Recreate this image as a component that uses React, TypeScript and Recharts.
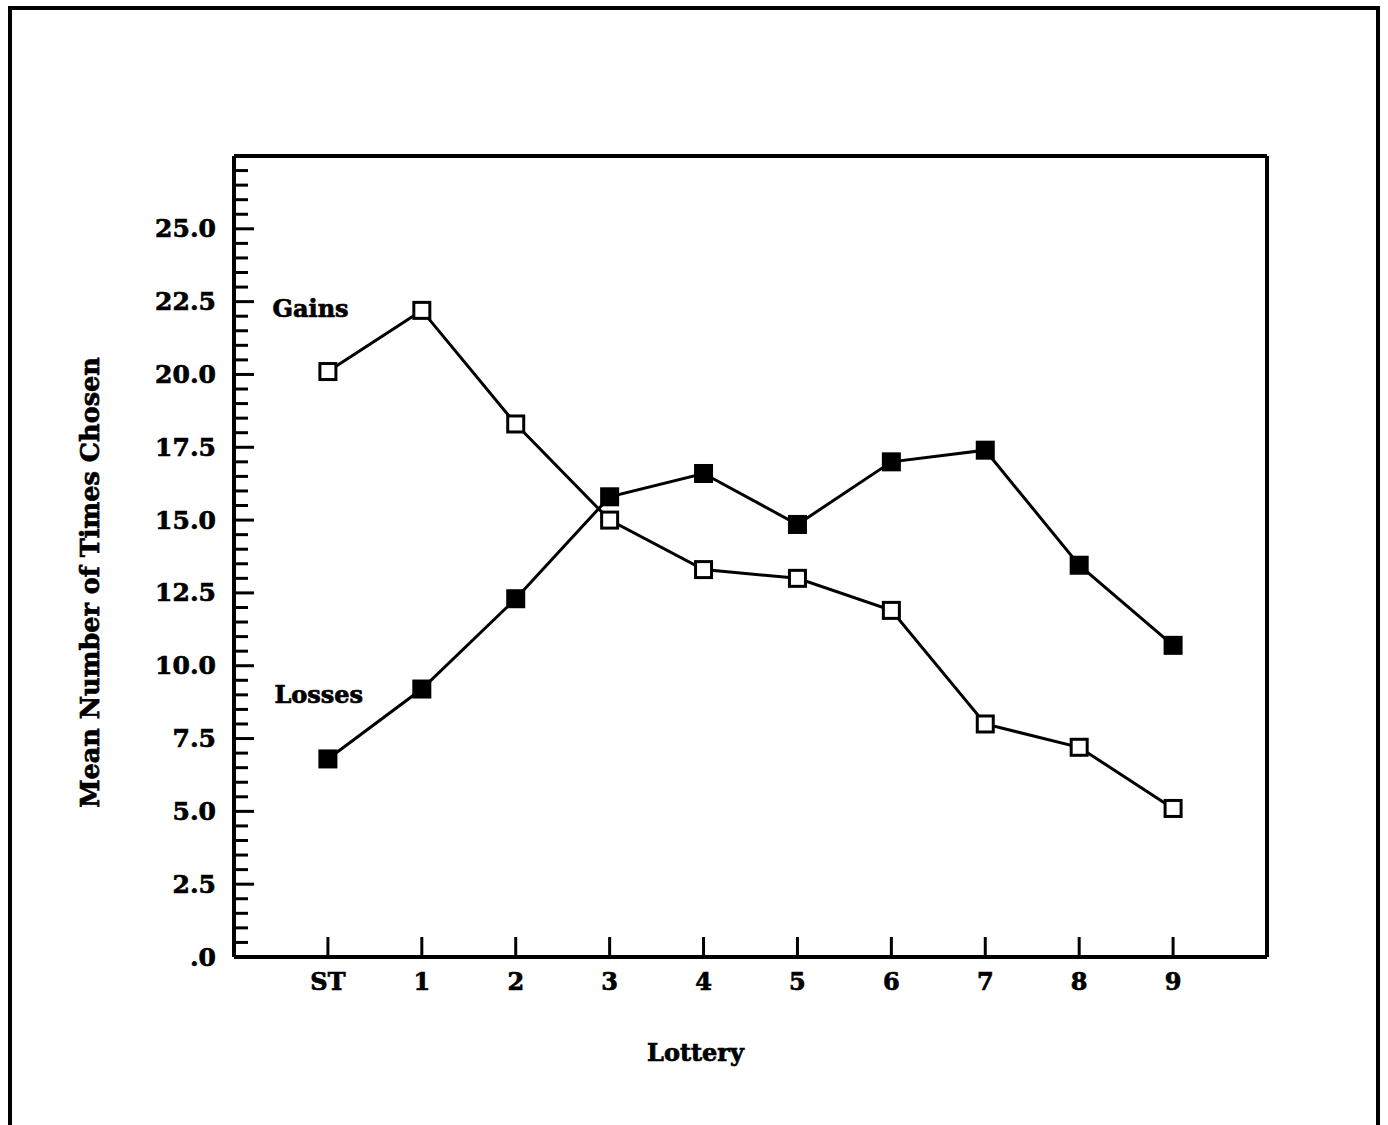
import { LineChart, Line, XAxis, YAxis, ReferenceDot, ReferenceLine } from "recharts"

const lotteries = ["ST", "1", "2", "3", "4", "5", "6", "7", "8", "9"]
const gains = [20.1, 22.2, 18.3, 15.0, 13.3, 13.0, 11.9, 8.0, 7.2, 5.1]
const losses = [6.8, 9.2, 12.3, 15.8, 16.6, 14.85, 17.0, 17.4, 13.45, 10.7]
const yMajorTicks = [0, 2.5, 5, 7.5, 10, 12.5, 15, 17.5, 20, 22.5, 25]
const yMinorTicks = Array.from({ length: 55 }, (_, i) => i * 0.5)
const xTicks = lotteries.map((_, i) => i)

const data = lotteries.map((lottery, i) => ({
  x: i,
  lottery,
  gains: gains[i],
  losses: losses[i]
}))

const font = "'DejaVu Serif', serif"
// heavier strokes so the text looks like the old plotter lettering
const heavy = { fontFamily: font, fontWeight: "bold" as const, fill: "#000", stroke: "#000", strokeWidth: 0.7 }

const fmtY = (v: number) => (v === 0 ? ".0" : v.toFixed(1))

const YTick = (props: any) => {
  const { x, y, payload } = props
  const major = yMajorTicks.includes(payload.value)
  return (
    <g>
      <line x1={x} x2={x + (major ? 20 : 14)} y1={y} y2={y} stroke="#000" strokeWidth={3} />
      {major && (
        <text x={x - 18} y={y} textAnchor="end" dominantBaseline="central" fontSize={25} {...heavy}>
          {fmtY(payload.value)}
        </text>
      )}
    </g>
  )
}

const XTick = (props: any) => {
  const { x, y, payload } = props
  return (
    <g>
      <line x1={x} x2={x} y1={y} y2={y - 20} stroke="#000" strokeWidth={3} />
      <text x={x} y={y + 24} textAnchor="middle" dominantBaseline="central" fontSize={24} {...heavy}>
        {lotteries[payload.value]}
      </text>
    </g>
  )
}

const square = (filled: boolean) => (props: any) => {
  const { cx, cy, index } = props
  return (
    <rect key={index} x={cx - 8} y={cy - 8} width={16} height={16} fill={filled ? "#000" : "#fff"} stroke="#000" strokeWidth={3} />
  )
}

const seriesLabel = (text: string) => (props: any) => {
  const { viewBox } = props
  return (
    <text x={viewBox.x} y={viewBox.y} dominantBaseline="central" fontSize={24} {...heavy}>
      {text}
    </text>
  )
}

export default function App() {
  return (
    <div style={{ position: "absolute", left: 0, top: 0, width: 1388, height: 1125, background: "#fff", overflow: "hidden" }}>
      <div
        style={{
          position: "absolute",
          left: 8,
          top: 6,
          width: 1364,
          height: 1200,
          borderTop: "4px solid #000",
          borderLeft: "4px solid #000",
          borderRight: "4px solid #000"
        }}
      />
      <div style={{ position: "absolute", left: 0, top: 0 }}>
        <LineChart width={1388} height={1125} data={data} margin={{ top: 156, right: 121, left: 10, bottom: 68 }}>
          <XAxis
            dataKey="x"
            type="number"
            domain={[-1, 10]}
            ticks={xTicks}
            interval={0}
            tickSize={0}
            tickMargin={0}
            tickLine={false}
            tick={<XTick />}
            height={100}
            axisLine={{ stroke: "#000", strokeWidth: 4 }}
            label={{
              content: ({ viewBox }: any) => (
                <text x={viewBox.x + viewBox.width / 2 - 55} y={viewBox.y + 95} textAnchor="middle" dominantBaseline="central" fontSize={24} {...heavy}>
                  Lottery
                </text>
              )
            }}
          />
          <YAxis
            type="number"
            domain={[0, 27.5]}
            ticks={yMinorTicks}
            interval={0}
            tickSize={0}
            tickMargin={0}
            tickLine={false}
            tick={<YTick />}
            width={224}
            axisLine={{ stroke: "#000", strokeWidth: 4 }}
            label={{
              content: ({ viewBox }: any) => {
                const cx = viewBox.x + 80
                const cy = viewBox.y + viewBox.height / 2 + 26
                return (
                  <text x={cx} y={cy} transform={`rotate(-90 ${cx} ${cy})`} textAnchor="middle" dominantBaseline="central" fontSize={25.5} {...heavy}>
                    Mean Number of Times Chosen
                  </text>
                )
              }
            }}
          />
          <ReferenceLine y={27.5} stroke="#000" strokeWidth={4} />
          <ReferenceLine x={10} stroke="#000" strokeWidth={4} />
          <Line dataKey="gains" stroke="#000" strokeWidth={3} dot={square(false)} activeDot={false} isAnimationActive={false} />
          <Line dataKey="losses" stroke="#000" strokeWidth={3} dot={square(true)} activeDot={false} isAnimationActive={false} />
          <ReferenceDot x={-0.59} y={22.25} r={0} fill="none" stroke="none" label={{ content: seriesLabel("Gains") }} />
          <ReferenceDot x={-0.57} y={9.0} r={0} fill="none" stroke="none" label={{ content: seriesLabel("Losses") }} />
        </LineChart>
      </div>
    </div>
  )
}
